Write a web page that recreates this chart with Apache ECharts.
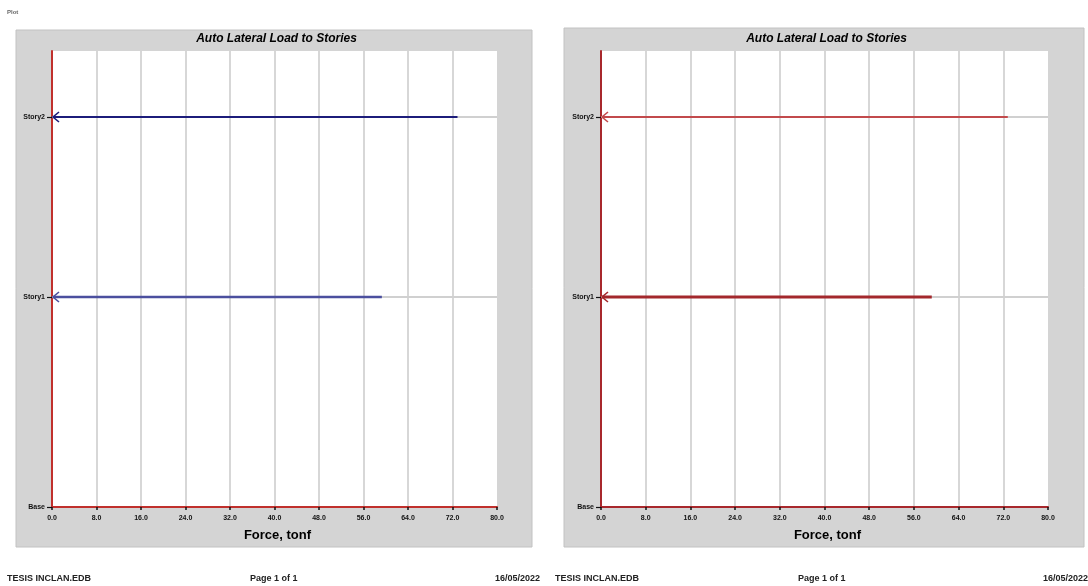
<!DOCTYPE html>
<html>
<head>
<meta charset="utf-8">
<script src="https://cdn.jsdelivr.net/npm/echarts@6/dist/echarts.min.js"></script>
<style>
  html, body { margin: 0; padding: 0; background: #ffffff; }
  #chart { width: 1088px; height: 586px; }
</style>
</head>
<body>
<div id="chart"></div>
<script>
// Story levels (elevation, m) and their names
const storyNames = ['Base', 'Story1', 'Story2'];
const storyElev = [0, 3.5, 6.5];
// Lateral loads per story (tonf), Story1 and Story2
const loadStories = ['Story1', 'Story2'];
const loadsX = [59.3, 72.9];
const loadsY = [59.2, 72.8];
// Force axis
const forceMin = 0;
const forceMax = 80;
const forceStep = 8;
const elevMax = 7.6;

const titleText = 'Auto Lateral Load to Stories';
const axisTitle = 'Force, tonf';
const footerFile = 'TESIS INCLAN.EDB';
const footerPage = 'Page 1 of 1';
const footerDate = '16/05/2022';

const FONT = '"Liberation Sans", Arial, sans-serif';

const panels = [
  { grid: { left: 52, top: 51, width: 445, height: 456 }, box: [16, 30, 516, 517],
    axisColor: '#c0302c', loads: loadsX, colors: ['#4b4f9e', '#1c1c7a'], widths: [2.5, 2.2] },
  { grid: { left: 601, top: 51, width: 447, height: 456 }, box: [564, 28, 520, 519],
    axisColor: '#a8282c', loads: loadsY, colors: ['#a3282c', '#c24a4c'], widths: [3, 1.8] }
];

const chart = echarts.init(document.getElementById('chart'), null, { renderer: 'canvas' });

const storyLabel = v => {
  const i = storyElev.indexOf(v);
  return i >= 0 ? storyNames[i] : '';
};

const grids = [], xAxes = [], yAxes = [], series = [], graphics = [];

panels.forEach((p, k) => {
  graphics.push({
    type: 'rect', z: -10,
    shape: { x: p.box[0], y: p.box[1], width: p.box[2], height: p.box[3] },
    style: { fill: '#d4d4d4', stroke: '#c2c2c2', lineWidth: 1 }
  });
  graphics.push({
    type: 'text', z: 10,
    x: p.grid.left + p.grid.width / 2 + 2, y: 39,
    style: { text: titleText, font: 'italic bold 12px ' + FONT, fill: '#000',
             align: 'center', verticalAlign: 'middle',
             shadowColor: 'rgba(0,0,0,0.35)', shadowBlur: 2 }
  });
  graphics.push({
    type: 'text', z: 10,
    x: p.grid.left + p.grid.width / 2 + 3, y: 535,
    style: { text: axisTitle, font: 'bold 13px ' + FONT, fill: '#000',
             align: 'center', verticalAlign: 'middle',
             shadowColor: 'rgba(0,0,0,0.3)', shadowBlur: 2 }
  });

  grids.push(Object.assign({ show: true, backgroundColor: '#ffffff', borderWidth: 0 }, p.grid));

  xAxes.push({
    type: 'value', gridIndex: k, min: forceMin, max: forceMax, interval: forceStep,
    axisLine: { show: true, onZero: false, lineStyle: { color: p.axisColor, width: 2 } },
    axisTick: { show: true, inside: false, length: 3, lineStyle: { color: '#111', width: 1.5 } },
    axisLabel: { fontFamily: FONT, fontWeight: 'bold', fontSize: 7, color: '#111', margin: 8,
                 formatter: v => v.toFixed(1) },
    splitLine: { show: true, showMinLine: false, showMaxLine: false,
                 lineStyle: { color: '#cdcdcd', width: 1.6 } }
  });

  yAxes.push({
    type: 'value', gridIndex: k, min: 0, max: elevMax,
    axisLine: { show: true, onZero: false, lineStyle: { color: p.axisColor, width: 2 } },
    axisTick: { show: true, length: 5, customValues: storyElev, lineStyle: { color: '#111', width: 1.2 } },
    axisLabel: { show: true, customValues: storyElev, formatter: storyLabel, margin: 7,
                 fontFamily: FONT, fontWeight: 'bold', fontSize: 7, color: '#111' },
    splitLine: { show: false }
  });

  // One arrow per story: gridline across the plot, load line and open arrowhead at zero
  const rows = loadStories.map((s, i) => [p.loads[i], storyElev[storyNames.indexOf(s)], i]);
  series.push({
    type: 'custom', xAxisIndex: k, yAxisIndex: k, data: rows, clip: false,
    renderItem: (params, api) => {
      const v = api.value(0), e = api.value(1), idx = api.value(2);
      const p0 = api.coord([0, e]);
      const p1 = api.coord([v, e]);
      const pEnd = api.coord([forceMax, e]);
      const col = p.colors[idx], w = p.widths[idx];
      return {
        type: 'group',
        children: [
          { type: 'line', shape: { x1: p0[0], y1: p0[1], x2: pEnd[0], y2: pEnd[1] },
            style: { stroke: '#d0d0d0', lineWidth: 1.8 } },
          { type: 'line', shape: { x1: p0[0] + 1, y1: p0[1], x2: p1[0], y2: p1[1] },
            style: { stroke: col, lineWidth: w } },
          { type: 'polyline',
            shape: { points: [[p0[0] + 7, p0[1] - 5], [p0[0] + 1, p0[1]], [p0[0] + 7, p0[1] + 5]] },
            style: { stroke: col, lineWidth: 1.6, fill: null } }
        ]
      };
    }
  });

  // Footer line under each page
  const fx = [p.box[0] - 9, p.box[0] + 234, p.box[0] + 479];
  [footerFile, footerPage, footerDate].forEach((t, j) => {
    graphics.push({
      type: 'text', x: fx[j], y: 579,
      style: { text: t, font: 'bold 9px ' + FONT, fill: '#222', align: 'left', verticalAlign: 'middle' }
    });
  });
});

graphics.push({
  type: 'text', x: 7, y: 12,
  style: { text: 'Plot', font: 'bold 6px ' + FONT, fill: '#666', align: 'left', verticalAlign: 'middle' }
});

chart.setOption({
  animation: false,
  backgroundColor: '#ffffff',
  grid: grids,
  xAxis: xAxes,
  yAxis: yAxes,
  series: series,
  graphic: graphics
});
</script>
</body>
</html>
